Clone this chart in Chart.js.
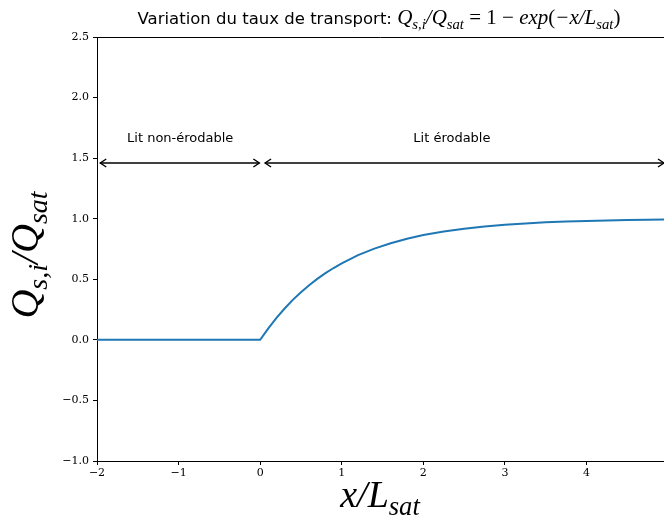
<!DOCTYPE html>
<html>
<head>
<meta charset="utf-8">
<script src="https://cdn.jsdelivr.net/npm/chart.js@4"></script>
<style>
  html, body { margin: 0; padding: 0; background: #fff; }
  #wrap { width: 664px; height: 521px; }
</style>
</head>
<body>
<div id="wrap"><canvas id="chart" width="664" height="521"></canvas></div>
<script>
// curve
const xValues = [-2, 0, 0.1, 0.2, 0.3, 0.4, 0.5, 0.6, 0.7, 0.8, 0.9, 1.0, 1.2, 1.4, 1.6, 1.8, 2.0, 2.25, 2.5, 2.75, 3.0, 3.25, 3.5, 3.75, 4.0, 4.25, 4.5, 4.75, 4.95];
const qRatio  = [0, 0, 0.095, 0.181, 0.259, 0.33, 0.393, 0.451, 0.503, 0.551, 0.593, 0.632, 0.699, 0.753, 0.798, 0.835, 0.865, 0.895, 0.918, 0.936, 0.95, 0.961, 0.97, 0.976, 0.982, 0.986, 0.989, 0.991, 0.993];

const xTicks = [-2, -1, 0, 1, 2, 3, 4];
const yTicks = [-1.0, -0.5, 0.0, 0.5, 1.0, 1.5, 2.0, 2.5];

// double arrows and their labels (data coords)
const arrowY = 1.46;
const arrowSpans = [[-1.96, -0.01], [0.06, 4.95]];
const zoneLabels = ["Lit non-érodable", "Lit érodable"];
const zoneLabelX = [-0.98, 2.35];
const zoneLabelY = 1.67;

const minus = v => String(v).replace("-", "\u2212");

function drawArrowHead(ctx, x, y, dir) {
  ctx.beginPath();
  ctx.moveTo(x + dir * -6, y - 4);
  ctx.lineTo(x, y);
  ctx.lineTo(x + dir * -6, y + 4);
  ctx.stroke();
}

// math-ish text pieces: [text, subscript?, upright?]
function mathFont(p, size, family) {
  const s = p[1] ? size * 0.7 : size;
  return (p[2] ? "" : "italic ") + s + "px " + family;
}

function measureMath(ctx, parts, size, family) {
  let w = 0;
  parts.forEach(p => { ctx.font = mathFont(p, size, family); w += ctx.measureText(p[0]).width; });
  return w;
}

function drawMath(ctx, parts, x, y, size, align, family) {
  const w = measureMath(ctx, parts, size, family);
  let cx = align === "center" ? x - w / 2 : x;
  ctx.textAlign = "left";
  parts.forEach(p => {
    ctx.font = mathFont(p, size, family);
    ctx.fillText(p[0], cx, y + (p[1] ? size * 0.22 : 0));
    cx += ctx.measureText(p[0]).width;
  });
}

const overlay = {
  id: "overlay",
  afterDraw(chart) {
    const ctx = chart.ctx;
    const xs = chart.scales.x, ys = chart.scales.y;
    const area = chart.chartArea;
    ctx.save();
    ctx.strokeStyle = "#000";
    ctx.lineWidth = 1;
    // top spine
    ctx.beginPath();
    ctx.moveTo(area.left, area.top + 0.5);
    ctx.lineTo(area.right, area.top + 0.5);
    ctx.stroke();

    // arrows
    ctx.lineWidth = 1.4;
    const ay = ys.getPixelForValue(arrowY);
    arrowSpans.forEach(s => {
      const a = xs.getPixelForValue(s[0]), b = xs.getPixelForValue(s[1]);
      ctx.beginPath();
      ctx.moveTo(a, ay);
      ctx.lineTo(b, ay);
      ctx.stroke();
      drawArrowHead(ctx, a, ay, -1);
      drawArrowHead(ctx, b, ay, 1);
    });

    ctx.fillStyle = "#000";
    ctx.textBaseline = "alphabetic";
    ctx.font = "13px 'DejaVu Sans'";
    ctx.textAlign = "center";
    zoneLabels.forEach((t, i) => {
      ctx.fillText(t, xs.getPixelForValue(zoneLabelX[i]), ys.getPixelForValue(zoneLabelY) + 4);
    });

    // title
    const titleText = "Variation du taux de transport: ";
    const titleFont = "16.5px 'DejaVu Sans'";
    const serif = "'Liberation Serif'";
    const mathParts = [["Q"], ["s,i", true], ["/Q"], ["sat", true], [" = 1 \u2212 ", false, true], ["exp"], ["(", false, true], ["\u2212x/L"], ["sat", true], [")", false, true]];
    ctx.font = titleFont;
    const tw = ctx.measureText(titleText).width;
    const mw = measureMath(ctx, mathParts, 21, serif);
    const tx = 379 - (tw + mw) / 2;
    ctx.textAlign = "left";
    ctx.font = titleFont;
    ctx.fillText(titleText, tx, 24);
    drawMath(ctx, mathParts, tx + tw, 24, 21, "left", serif);

    // x axis title
    drawMath(ctx, [["x/L"], ["sat", true]], 380, 507, 38, "center", serif);

    // y axis title, rotated
    ctx.translate(38, 255);
    ctx.rotate(-Math.PI / 2);
    drawMath(ctx, [["Q"], ["s,i", true], ["/Q"], ["sat", true]], 0, 0, 40, "center", serif);
    ctx.restore();
  }
};

const tickFont = { family: "'DejaVu Serif'", size: 11 };

new Chart(document.getElementById("chart"), {
  type: "line",
  data: {
    labels: xValues,
    datasets: [{
      data: xValues.map((x, i) => ({ x: x, y: qRatio[i] })),
      borderColor: "#1f77b4",
      borderWidth: 2,
      pointRadius: 0,
      tension: 0,
      fill: false
    }]
  },
  options: {
    responsive: false,
    animation: false,
    layout: { padding: { left: 0, right: 0, top: 37, bottom: 0 } },
    plugins: {
      legend: { display: false },
      tooltip: { enabled: false }
    },
    scales: {
      x: {
        type: "linear",
        min: -2,
        max: 4.95,
        afterFit: s => { s.height = 60; },
        afterBuildTicks: s => { s.ticks = xTicks.map(v => ({ value: v })); },
        ticks: {
          color: "#000",
          font: tickFont,
          padding: 2,
          maxRotation: 0,
          callback: v => minus(v)
        },
        grid: { drawOnChartArea: false, drawTicks: true, tickLength: 4, color: "#000" },
        border: { display: true, color: "#000", width: 1 }
      },
      y: {
        type: "linear",
        min: -1,
        max: 2.5,
        afterFit: s => { s.width = 97; },
        afterBuildTicks: s => { s.ticks = yTicks.map(v => ({ value: v })); },
        ticks: {
          color: "#000",
          font: tickFont,
          padding: 4,
          callback: v => minus(v.toFixed(1))
        },
        grid: { drawOnChartArea: false, drawTicks: true, tickLength: 4, color: "#000" },
        border: { display: true, color: "#000", width: 1 }
      }
    }
  },
  plugins: [overlay]
});
</script>
</body>
</html>
